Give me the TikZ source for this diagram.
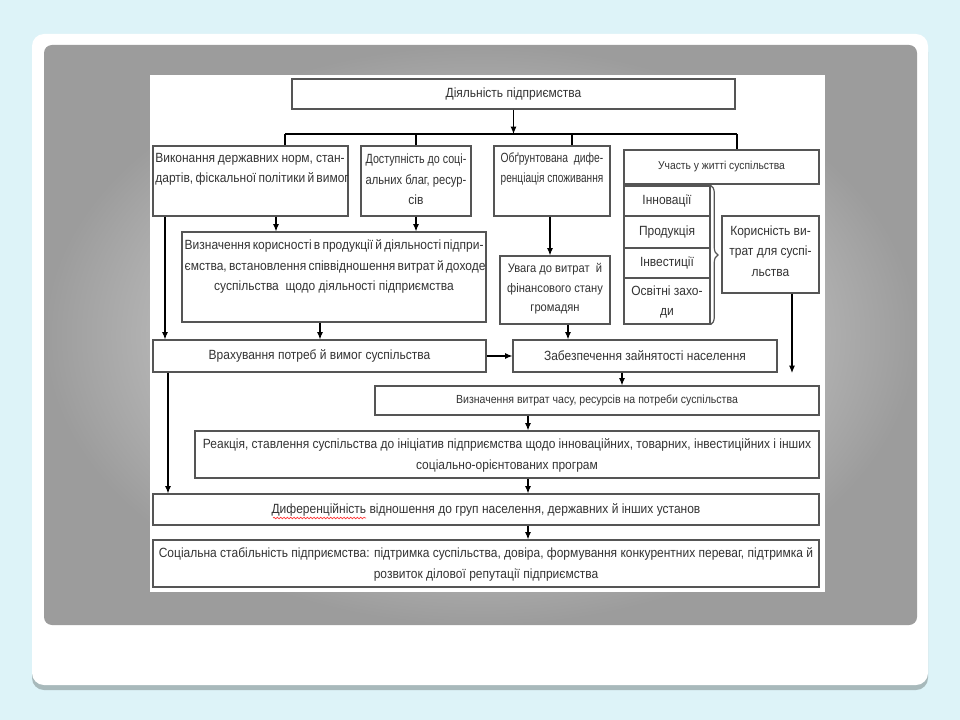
\documentclass[tikz,border=0pt]{standalone}
\usepackage{graphicx}
\usepackage{fontspec}
\setmainfont{Liberation Sans}[FakeStretch=0.9]
\usetikzlibrary{fit,arrows.meta,decorations.pathreplacing,decorations.pathmorphing}
\definecolor{bgc}{HTML}{DDF3F8}
\definecolor{shadowc}{HTML}{A8B9BB}
\definecolor{panelouter}{HTML}{9C9C9C}
\definecolor{panelinner}{HTML}{F4F4F4}
\definecolor{boxline}{HTML}{555555}
\definecolor{txtc}{HTML}{333333}
\newcommand{\sqline}[2]{\resizebox{#1}{\height}{#2}}
\begin{document}
\begin{tikzpicture}[x=0.75pt,y=-0.75pt,
  box/.style={draw=boxline, line width=0.9pt, fill=white, inner sep=0pt},
  txt/.style={text=txtc, font=\fontsize{10}{15.3}\selectfont, inner sep=0pt, align=center},
  stxt/.style={txt, font=\fontsize{8.8}{14.3}\selectfont},
  arr/.style={-{Latex[length=5.5pt,width=4.5pt]}, line width=0.8pt, black},
  ln/.style={line width=0.8pt, black}]
% background, card, panel
\fill[bgc] (0,0) rectangle (960,720);
\useasboundingbox (0,0) rectangle (960,720);
\fill[shadowc, rounded corners=9pt] (32,40) rectangle (928,690);
\fill[white, rounded corners=9pt] (32,34) rectangle (928,685);
\shade[rounded corners=6pt, inner color=panelinner, outer color=panelouter] (44,45) rectangle (917,625);
\fill[white] (150,75) rectangle (825,592);

% boxes
\node[box, fit={(292,79) (735,109)}] (top) {};
\node[box, fit={(153,146) (348,216)}] (b1) {};
\node[box, fit={(361,146) (471,216)}] (b2) {};
\node[box, fit={(494,146) (610,216)}] (b3) {};
\node[box, fit={(624,150) (819,184)}] (b4) {};
\node[box, fit={(624,186) (710,216)}] (s1) {};
\node[box, fit={(624,216) (710,248)}] (s2) {};
\node[box, fit={(624,248) (710,278)}] (s3) {};
\node[box, fit={(624,278) (710,324)}] (s4) {};
\node[box, fit={(722,216) (819,293)}] (kor) {};
\node[box, fit={(182,232) (486,322)}] (vk) {};
\node[box, fit={(500,256) (610,324)}] (uv) {};
\node[box, fit={(153,340) (486,372)}] (vr) {};
\node[box, fit={(513,340) (777,372)}] (zb) {};
\node[box, fit={(375,386) (819,415)}] (vv) {};
\node[box, fit={(195,431) (819,478)}] (re) {};
\node[box, fit={(153,494) (819,525)}] (df) {};
\node[box, fit={(153,540) (819,587)}] (ss) {};

% texts
\node[txt] (ttop) at (top.center) {Діяльність підприємства};
\node[txt] (t1) at (250,169) {\makebox[142pt][s]{Виконання державних норм, стан-}\\\makebox[142pt][s]{дартів, фіскальної політики й вимог}};
\node[txt] (t2) at (416,179.5) {\sqline{75.5pt}{Доступність до соці-}\\\sqline{75.5pt}{альних благ, ресур-}\\сів};
\node[txt] (t3) at (552,169) {\sqline{77pt}{Обґрунтована\ \ дифе-}\\\sqline{77pt}{ренціація споживання}};
\node[txt, font=\fontsize{8.6}{14}\selectfont] (t4) at (b4.center) {Участь у житті суспільства};
\node[txt] (ts1) at (s1.center) {Інновації};
\node[txt] (ts2) at (s2.center) {Продукція};
\node[txt] (ts3) at (s3.center) {Інвестиції};
\node[txt] (ts4) at (667,302) {Освітні захо-\\ди};
\node[txt] (tkor) at (770.5,251) {Корисність ви-\\трат для суспі-\\льства};
\node[txt] (t5) at (334,266.5) {\makebox[224pt][s]{Визначення корисності в продукції й діяльності підпри-}\\\makebox[224pt][s]{ємства, встановлення співвідношення витрат й доходе}\\суспільства\ \ щодо діяльності підприємства};
\node[txt, font=\fontsize{9.3}{14.5}\selectfont] (tuv) at (555,289) {Увага до витрат\ \ й\\фінансового стану\\громадян};
\node[txt] (tvr) at (vr.center) {Врахування потреб й вимог суспільства};
\node[txt] (tzb) at (zb.center) {Забезпечення зайнятості населення};
\node[stxt] (tvv) at (vv.center) {Визначення витрат часу, ресурсів на потреби суспільства};
\node[txt] (tre) at (507,455.5) {Реакція, ставлення суспільства до ініціатив підприємства щодо інноваційних, товарних, інвестиційних і інших\\соціально-орієнтованих програм};
\node[txt] (tdf) at (df.center) {Диференційність відношення до груп населення, державних й інших установ};
\node[txt] (tss) at (486,564.5) {Соціальна стабільність підприємства: підтримка суспільства, довіра, формування конкурентних переваг, підтримка й\\розвиток ділової репутації підприємства};

% brace
\draw[boxline, line width=0.9pt, decorate, decoration={brace, amplitude=5.5pt}] (s1.north east) -- (s4.south east);

% connectors
\coordinate (busL) at (285,134);
\coordinate (busR) at (737,134);
\draw[arr] (top.south) -- (top.south |- busL);
\draw[ln] (busL) -- (busR);
\draw[ln] (busL) -- (busL |- b1.north);
\draw[ln] (416,0 |- busL) -- (416,0 |- b2.north);
\draw[ln] (572,0 |- busL) -- (572,0 |- b3.north);
\draw[ln] (busR) -- (busR |- b4.north);
\draw[arr] (276,0 |- b1.south) -- (276,0 |- vk.north);
\draw[arr] (416,0 |- b2.south) -- (416,0 |- vk.north);
\draw[arr] (165,0 |- b1.south) -- (165,0 |- vr.north);
\draw[arr] (550,0 |- b3.south) -- (550,0 |- uv.north);
\draw[arr] (320,0 |- vk.south) -- (320,0 |- vr.north);
\draw[arr] (568,0 |- uv.south) -- (568,0 |- zb.north);
\draw[arr] (vr.east) -- (zb.west);
\coordinate (korEnd) at (792,373);
\draw[arr] (792,0 |- kor.south) -- (korEnd);
\draw[arr] (622,0 |- zb.south) -- (622,0 |- vv.north);
\draw[arr] (168,0 |- vr.south) -- (168,0 |- df.north);
\draw[arr] (528,0 |- vv.south) -- (528,0 |- re.north);
\draw[arr] (528,0 |- re.south) -- (528,0 |- df.north);
\draw[arr] (528,0 |- df.south) -- (528,0 |- ss.north);

% spell-check underline
\coordinate (ulA) at (273,518);
\coordinate (ulB) at (366,518);
\draw[red!80, line width=0.5pt, decorate, decoration={snake, amplitude=0.6pt, segment length=2.5pt}] (ulA) -- (ulB);
\end{tikzpicture}
\end{document}
